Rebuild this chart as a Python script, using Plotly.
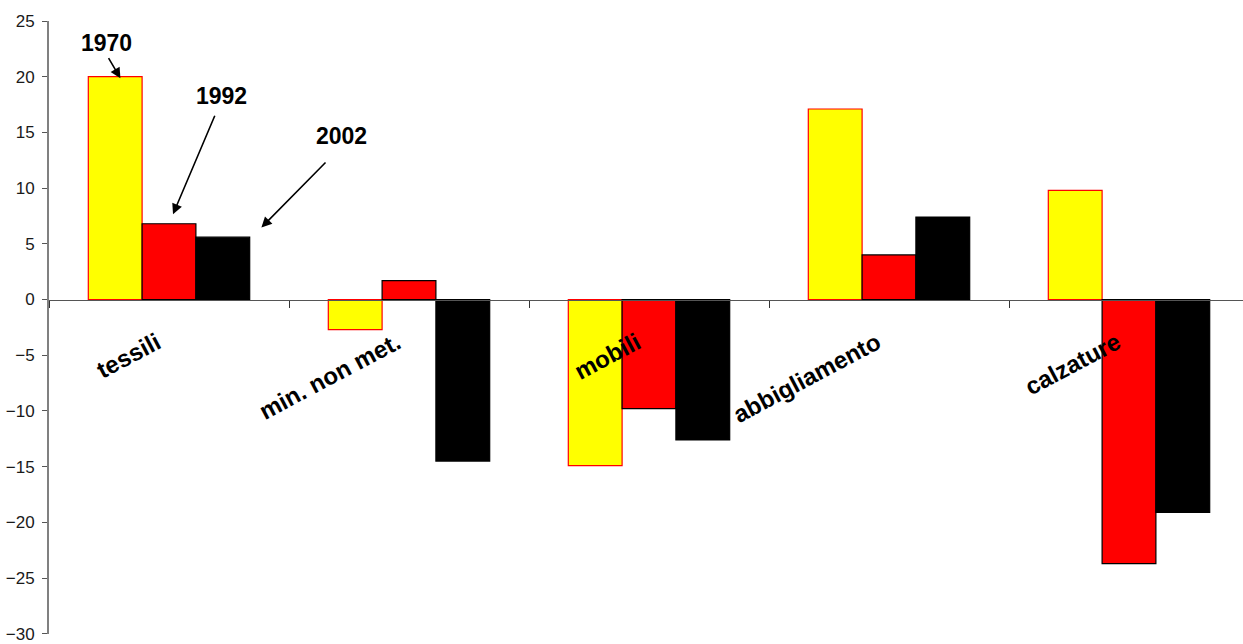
import plotly.graph_objects as go

# Sector series (percentage values) for three reference years
categories = ["tessili", "min. non met.", "mobili", "abbigliamento", "calzature"]
y1970 = [20.0, -2.7, -14.9, 17.1, 9.8]
y1992 = [6.8, 1.7, -9.8, 4.0, -23.7]
y2002 = [5.6, -14.5, -12.6, 7.4, -19.1]
y_ticks = [25, 20, 15, 10, 5, 0, -5, -10, -15, -20, -25, -30]

series = [
    ("1970", y1970, "#FFFF00", "#FF0000"),
    ("1992", y1992, "#FF0000", "#000000"),
    ("2002", y2002, "#000000", "#000000"),
]

fig = go.Figure()
for name, vals, fill, edge in series:
    fig.add_trace(go.Bar(
        x=categories, y=vals, name=name,
        marker=dict(color=fill, line=dict(color=edge, width=1.2)),
    ))

W, H = 1243, 644
ml, mr, mt, mb = 49, 0, 21, 6
y_min, y_max = -30.02, 25
plot_w = W - ml - mr
cat_px = 240.0

fig.update_layout(
    width=W, height=H,
    margin=dict(l=ml, r=mr, t=mt, b=mb),
    paper_bgcolor="white", plot_bgcolor="white",
    showlegend=False,
    barmode="group", bargap=0.3275, bargroupgap=0,
    font=dict(family="Arial, Liberation Sans, sans-serif", color="#000000"),
)

fig.update_yaxes(
    range=[y_min, y_max], tickvals=y_ticks,
    showgrid=False, zeroline=False,
    showline=True, linecolor="#808080", linewidth=2,
    ticks="outside", ticklen=5, tickcolor="#555555", tickwidth=1,
    ticklabelstandoff=4, ticklabeloverflow="allow",
    tickfont=dict(size=17, color="#1a1a1a"),
)

fig.update_xaxes(
    type="category",
    range=[-0.5, -0.5 + plot_w / cat_px],
    anchor="free", position=(0 - y_min) / (y_max - y_min),
    showgrid=False, zeroline=False,
    showline=True, linecolor="#555555", linewidth=1.2,
    ticks="outside", tickson="boundaries", ticklen=7, tickcolor="#333333", tickwidth=1,
    tickangle=-28,
    ticklabelstandoff=19, ticklabelshift=-12,
    tickfont=dict(size=24, color="#000000", weight="bold",
                  family="Arial, Liberation Sans, sans-serif"),
)

# Year labels with pointer arrows into the first group
year_labels = [("1970", -0.261, 23.04), ("1992", 0.218, 18.28), ("2002", 0.718, 14.71)]
for txt, xv, yv in year_labels:
    fig.add_annotation(x=xv, y=yv, text="<b>%s</b>" % txt, showarrow=False,
                       font=dict(size=23, color="#000000"))

arrows = [(-0.2025, 19.86, -12.7, -21.6), (0.0167, 7.65, 42.4, -100.0), (0.385, 6.46, 65.6, -66.6)]
for xv, yv, ax, ay in arrows:
    fig.add_annotation(x=xv, y=yv, ax=ax, ay=ay, text="", showarrow=True,
                       arrowhead=2, arrowsize=1.3, arrowwidth=1.6, arrowcolor="#000000",
                       standoff=0, startstandoff=0)

fig.write_html("out.html")
